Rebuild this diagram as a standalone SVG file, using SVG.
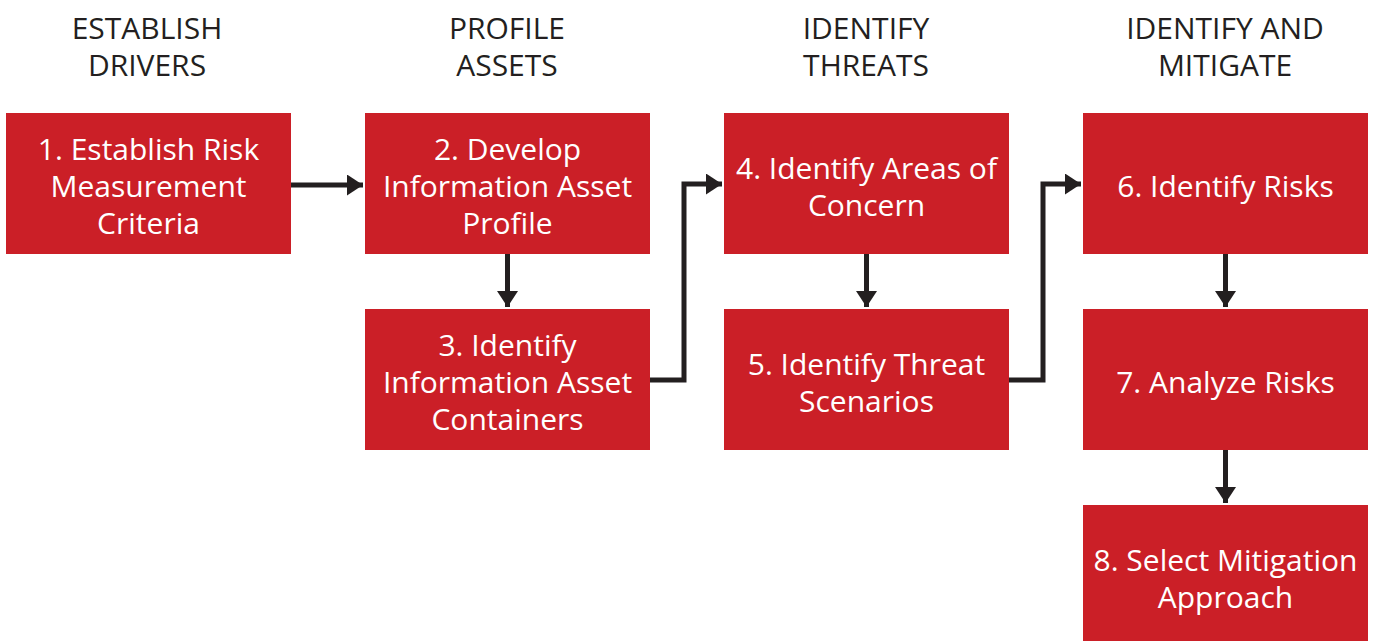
<svg xmlns="http://www.w3.org/2000/svg" width="1381" height="641" viewBox="0 0 1381 641">
<defs>
<style>
.box{fill:#cb1f27}
.t{font-family:"Open Sans","Liberation Sans",sans-serif;font-size:30px;fill:#fff;text-anchor:middle}
.h{font-family:"Open Sans","Liberation Sans",sans-serif;font-size:30px;fill:#231f20;text-anchor:middle}
.c{fill:none;stroke:#231f20;stroke-width:5}
</style>
<marker id="ah" viewBox="0 0 16 21" refX="16" refY="10.5" markerWidth="16" markerHeight="21" markerUnits="userSpaceOnUse" orient="auto">
<path d="M0,0 L16,10.5 L0,21 Z" fill="#231f20"/>
</marker>
</defs>
<rect width="1381" height="641" fill="#fff"/>
<g id="headers">
<text class="h" x="147" y="39">ESTABLISH</text><text class="h" x="147" y="76">DRIVERS</text>
<text class="h" x="507" y="39">PROFILE</text><text class="h" x="507" y="76">ASSETS</text>
<text class="h" x="866" y="39">IDENTIFY</text><text class="h" x="866" y="76">THREATS</text>
<text class="h" x="1225" y="39">IDENTIFY AND</text><text class="h" x="1225" y="76">MITIGATE</text>
</g>
<g id="connectors">
<path class="c" d="M291,185 H363" marker-end="url(#ah)"/>
<path class="c" d="M507.5,254 V307" marker-end="url(#ah)"/>
<path class="c" d="M650,380 H684 V184 H722" marker-end="url(#ah)"/>
<path class="c" d="M866.5,254 V307" marker-end="url(#ah)"/>
<path class="c" d="M1009,380 H1043 V184 H1081" marker-end="url(#ah)"/>
<path class="c" d="M1225.5,254 V307" marker-end="url(#ah)"/>
<path class="c" d="M1225.5,450 V503" marker-end="url(#ah)"/>
</g>
<g id="n1"><rect class="box" x="6" y="113" width="285" height="141"/>
<text class="t" x="148.5" y="160">1. Establish Risk</text><text class="t" x="148.5" y="197">Measurement</text><text class="t" x="148.5" y="234">Criteria</text></g>
<g id="n2"><rect class="box" x="365" y="113" width="285" height="141"/>
<text class="t" x="507.5" y="160">2. Develop</text><text class="t" x="507.5" y="197">Information Asset</text><text class="t" x="507.5" y="234">Profile</text></g>
<g id="n3"><rect class="box" x="365" y="309" width="285" height="141"/>
<text class="t" x="507.5" y="356">3. Identify</text><text class="t" x="507.5" y="393">Information Asset</text><text class="t" x="507.5" y="430">Containers</text></g>
<g id="n4"><rect class="box" x="724" y="113" width="285" height="141"/>
<text class="t" x="866.5" y="179">4. Identify Areas of</text><text class="t" x="866.5" y="216">Concern</text></g>
<g id="n5"><rect class="box" x="724" y="309" width="285" height="141"/>
<text class="t" x="866.5" y="375">5. Identify Threat</text><text class="t" x="866.5" y="412">Scenarios</text></g>
<g id="n6"><rect class="box" x="1083" y="113" width="285" height="141"/>
<text class="t" x="1225.5" y="197">6. Identify Risks</text></g>
<g id="n7"><rect class="box" x="1083" y="309" width="285" height="141"/>
<text class="t" x="1225.5" y="393">7. Analyze Risks</text></g>
<g id="n8"><rect class="box" x="1083" y="505" width="285" height="141"/>
<text class="t" x="1225.5" y="571">8. Select Mitigation</text><text class="t" x="1225.5" y="608">Approach</text></g>
</svg>
